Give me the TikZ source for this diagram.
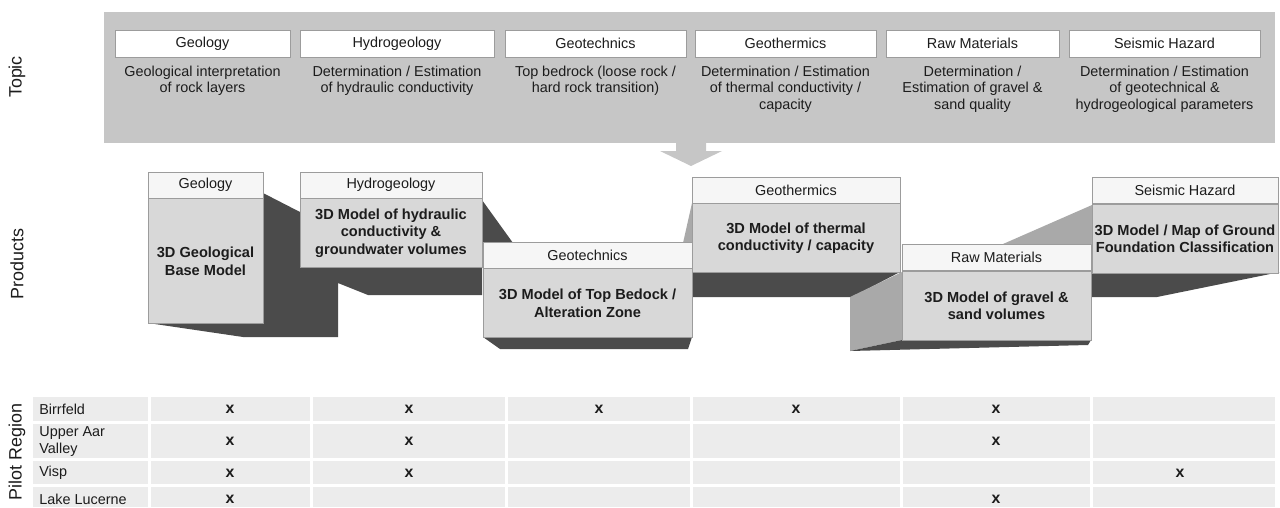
\documentclass[tikz,border=0pt]{standalone}
\usepackage{fontspec}
\setmainfont{Liberation Sans}
\usepackage{xcolor}
\usepackage{tikz}
\usetikzlibrary{positioning, calc}
\definecolor{topicgray}{HTML}{C6C6C6}
\definecolor{boxline}{HTML}{9C9C9C}
\definecolor{headwhite}{HTML}{F6F6F6}
\definecolor{bodygray}{HTML}{D8D8D8}
\definecolor{shadowgray}{HTML}{4B4B4B}
\definecolor{sidegray}{HTML}{A9A9A9}
\definecolor{cellgray}{HTML}{ECECEC}
\definecolor{txtgray}{HTML}{1C1C1C}

\begin{document}
\begin{tikzpicture}[x=0.02cm, y=-0.02cm,
  every node/.style={font=\fontsize{8.2}{9.3}\selectfont, text=txtgray},
  sidelabel/.style={font=\fontsize{10.2}{12}\selectfont, rotate=90},
  topichead/.style={draw=boxline, fill=white, minimum height=0.54cm, inner sep=0pt},
  topictext/.style={align=center, inner sep=0pt},
  prodhead/.style={draw=boxline, fill=headwhite, minimum height=0.52cm, inner sep=0pt},
  prodbody/.style={draw=boxline, fill=bodygray, minimum height=1.38cm, inner sep=0pt,
                   align=center, font=\fontsize{8.3}{9.9}\selectfont\bfseries},
  dark/.style={fill=shadowgray},
  light/.style={fill=sidegray},
  region/.style={anchor=west, align=left, inner sep=0pt},
  xmark/.style={font=\fontsize{9}{10}\selectfont\bfseries, inner sep=0pt}
]
  \useasboundingbox (0,0) rectangle (1280,507);

  % row labels on the left
  \node[sidelabel] (ltopic) at (17,77)  {Topic};
  \node[sidelabel] (lprod)  at (17,264) {Products};
  \node[sidelabel] (lpilot) at (17,452) {Pilot Region};

  % topics
  \node[fill=topicgray, minimum width=23.42cm, minimum height=2.62cm] (topicbox) at (689.5,77.5) {};
  \fill[topicgray] (676,142) -- (706,142) -- (706,151) -- (722,151) -- (691,166)
                   -- (660,151) -- (676,151) -- cycle;
  \node[topichead, minimum width=3.5cm]  (tgeo)  at (202.5,43.5)  {Geology};
  \node[topichead, minimum width=3.88cm] (thyd)  at (397,43.5)    {Hydrogeology};
  \node[topichead, minimum width=3.62cm] (ttech) at (595.5,43.5)  {Geotechnics};
  \node[topichead, minimum width=3.62cm] (ttherm) at (785.5,43.5) {Geothermics};
  \node[topichead, minimum width=3.46cm] (traw)  at (972.5,43.5)  {Raw Materials};
  \node[topichead, minimum width=3.82cm] (tseis) at (1164.5,43.5) {Seismic Hazard};
  \node[topictext, below=0.17cm of tgeo]   (dgeo)   {Geological interpretation\\of rock layers};
  \node[topictext, below=0.17cm of thyd]   (dhyd)   {Determination / Estimation\\of hydraulic conductivity};
  \node[topictext, below=0.17cm of ttech]  (dtech)  {Top bedrock (loose rock /\\hard rock transition)};
  \node[topictext, below=0.17cm of ttherm] (dtherm) {Determination / Estimation\\of thermal conductivity /\\capacity};
  \node[topictext, below=0.17cm of traw]   (dmat)   {Determination /\\Estimation of gravel \&\\sand quality};
  \node[topictext, below=0.17cm of tseis]  (dseis)  {Determination / Estimation\\of geotechnical \&\\hydrogeological parameters};

  % products: shaded faces first
  \fill[dark] (263,193) -- (300,212) -- (300,267) -- (482,267) -- (482,295) -- (368,295)
              -- (338,283) -- (338,337) -- (243,337) -- (148,323) -- (263,323) -- cycle;
  \fill[dark] (482,200) -- (513,243) -- (482,243) -- cycle;
  \fill[dark] (483,337) -- (692,337) -- (688,349) -- (500,349) -- cycle;
  \fill[light] (683,243) -- (692,203) -- (692,243) -- cycle;
  \fill[dark] (692,272) -- (900,272) -- (852,297) -- (692,297) -- cycle;
  \fill[light] (850,297) -- (902,272) -- (902,340) -- (850,351) -- cycle;
  \fill[dark] (850,351) -- (902,340) -- (1091,340) -- (1088,345) -- cycle;
  \fill[light] (1003,244) -- (1092,205) -- (1092,244) -- cycle;
  \fill[dark] (1092,272) -- (1280,272) -- (1157,297) -- (1092,297) -- cycle;

  \node[prodhead, minimum width=2.3cm] (pgeo) at (205.5,185) {Geology};
  \node[prodbody, minimum width=2.3cm, minimum height=2.5cm, below=0pt of pgeo] (pgeob)
    {3D Geological\\Base Model};
  \node[prodhead, minimum width=3.64cm] (phyd) at (391,185) {Hydrogeology};
  \node[prodbody, minimum width=3.64cm, below=0pt of phyd] (phydb)
    {3D Model of hydraulic\\conductivity \&\\groundwater volumes};
  \node[prodhead, minimum width=4.18cm] (ptech) at (587.5,255) {Geotechnics};
  \node[prodbody, minimum width=4.18cm, below=0pt of ptech] (ptechb)
    {3D Model of Top Bedock /\\Alteration Zone};
  \node[prodhead, minimum width=4.16cm] (ptherm) at (796,190) {Geothermics};
  \node[prodbody, minimum width=4.16cm, below=0pt of ptherm] (pthermb)
    {3D Model of thermal\\conductivity / capacity};
  \node[prodhead, minimum width=3.78cm] (praw) at (996.5,257.5) {Raw Materials};
  \node[prodbody, minimum width=3.78cm, below=0pt of praw] (prawb)
    {3D Model of gravel \&\\sand volumes};
  \node[prodhead, minimum width=3.72cm] (pseis) at (1185,190.5) {Seismic Hazard};
  \node[prodbody, minimum width=3.72cm, below=0pt of pseis] (pseisb)
    {3D Model / Map of Ground\\Foundation Classification};

  % pilot regions
  \fill[cellgray] (33,397) rectangle (1275,421);
  \fill[cellgray] (33,424) rectangle (1275,458);
  \fill[cellgray] (33,461) rectangle (1275,484);
  \fill[cellgray] (33,487) rectangle (1275,507);
  \draw[white, line width=0.06cm] (149.5,395) -- (149.5,507);
  \draw[white, line width=0.06cm] (311.5,395) -- (311.5,507);
  \draw[white, line width=0.06cm] (506.5,395) -- (506.5,507);
  \draw[white, line width=0.06cm] (691.5,395) -- (691.5,507);
  \draw[white, line width=0.06cm] (901.5,395) -- (901.5,507);
  \draw[white, line width=0.06cm] (1091.5,395) -- (1091.5,507);

  \node[region] (rbirr) at (39,409)   {Birrfeld};
  \node[region] (raar)  at (39,441.5) {Upper Aar\\Valley};
  \node[region] (rvisp) at (39,473)   {Visp};
  \node[region] (rluc)  at (39,499)   {Lake Lucerne};

  \node[xmark] (mbirra) at (230,409)  {x};
  \node[xmark] (mbirrb) at (409,409)  {x};
  \node[xmark] (mbirrc) at (599,409)  {x};
  \node[xmark] (mbirrd) at (796,409)  {x};
  \node[xmark] (mbirre) at (996,409)  {x};
  \node[xmark] (maara)  at (230,441.5) {x};
  \node[xmark] (maarb)  at (409,441.5) {x};
  \node[xmark] (maare)  at (996,441.5) {x};
  \node[xmark] (mvispa) at (230,473)  {x};
  \node[xmark] (mvispb) at (409,473)  {x};
  \node[xmark] (mvispf) at (1180,473) {x};
  \node[xmark] (mluca)  at (230,499)  {x};
  \node[xmark] (mluce)  at (996,499)  {x};
\end{tikzpicture}
\end{document}
